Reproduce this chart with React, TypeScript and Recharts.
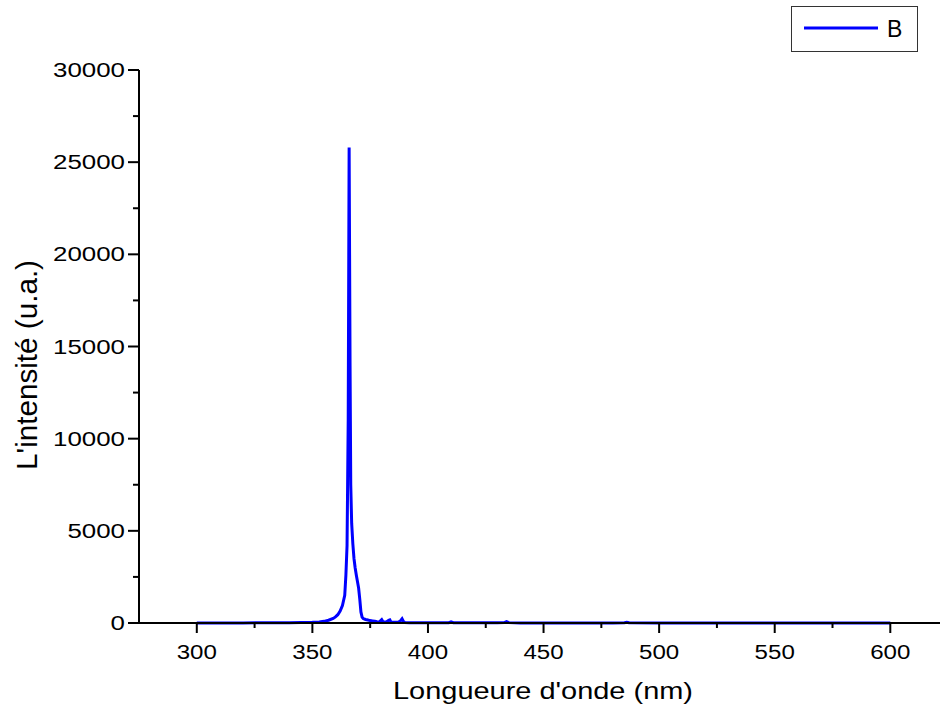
import React from "react";
import { LineChart, Line, XAxis, YAxis, Legend } from "recharts";

// spectrum (nm / counts)
const wavelengths = [
  300, 320, 330, 340, 345, 350, 353, 355, 357, 359, 360, 361, 362, 363, 364, 364.5, 365,
  365.5, 365.9, 366.3, 366.6, 367, 367.5, 368, 368.5, 369, 369.5, 370, 370.5, 371, 371.5,
  372, 373, 374, 375, 376, 377, 378, 379, 380, 380.5, 381, 382, 383, 383.5, 384, 385, 387,
  388, 388.8, 389.5, 390, 392, 395, 400, 405, 409, 410, 411, 415, 420, 430, 433, 434, 435,
  440, 450, 460, 470, 480, 485, 486, 487, 500, 550, 600,
];
const intensities = [
  0, 5, 10, 15, 25, 40, 60, 90, 150, 250, 330, 450, 650, 950, 1500, 2600, 4200,
  11000, 25800, 14000, 7500, 5400, 4300, 3500, 3000, 2600, 2250, 1900, 1300, 600, 320,
  240, 190, 160, 130, 110, 90, 70, 60, 180, 80, 50, 60, 150, 170, 60, 40, 40,
  100, 230, 60, 30, 20, 15, 10, 10, 20, 60, 20, 10, 8, 8, 20, 70, 20,
  5, 5, 5, 5, 5, 10, 40, 10, 5, 3, 2,
];

const xTicks = [300, 325, 350, 375, 400, 425, 450, 475, 500, 525, 550, 575, 600];
const yTicks = [0, 2500, 5000, 7500, 10000, 12500, 15000, 17500, 20000, 22500, 25000, 27500, 30000];

const seriesName = "B";
const xTitle = "Longueure d'onde (nm)";
const yTitle = "L'intensité (u.a.)";

const FONT = "'Liberation Sans', Arial, sans-serif";
const BLUE = "#0000ff";

const data = wavelengths.map((nm, i) => ({ nm, B: intensities[i] }));

const XTick = (props: any) => {
  const { x, y, payload } = props;
  const major = payload.value % 50 === 0;
  const label = String(payload.value);
  return (
    <g>
      <line x1={x} x2={x} y1={y} y2={y + (major ? 10 : 5)} stroke="#000" strokeWidth={2} />
      {major && (
        <text
          x={x}
          y={y + 36}
          textAnchor="middle"
          fontFamily={FONT}
          fontSize={20}
          fill="#000"
          textLength={label.length * 13.4}
          lengthAdjust="spacingAndGlyphs"
        >
          {label}
        </text>
      )}
    </g>
  );
};

const YTick = (props: any) => {
  const { x, y, payload } = props;
  const major = payload.value % 5000 === 0;
  const label = String(payload.value);
  return (
    <g>
      <line x1={x - (major ? 11 : 6)} x2={x} y1={y} y2={y} stroke="#000" strokeWidth={2} />
      {major && (
        <text
          x={x - 14}
          y={y + 7}
          textAnchor="end"
          fontFamily={FONT}
          fontSize={20}
          fill="#000"
          textLength={label.length * 14.4}
          lengthAdjust="spacingAndGlyphs"
        >
          {label}
        </text>
      )}
    </g>
  );
};

const renderLegend = () => (
  <div
    style={{
      width: 125,
      height: 44,
      border: "1.5px solid #333",
      background: "#fff",
    }}
  >
    <svg width={125} height={44}>
      <line x1={12} x2={86} y1={21} y2={21} stroke={BLUE} strokeWidth={3} />
      <text x={95} y={30} fontFamily={FONT} fontSize={23} fill="#000">
        {seriesName}
      </text>
    </svg>
  </div>
);

export default function App() {
  return (
    <div style={{ position: "absolute", left: 0, top: 0, background: "#fff" }}>
      <LineChart
        width={942}
        height={710}
        data={data}
        margin={{ top: 70, right: 2, bottom: 0, left: 0 }}
      >
        <XAxis
          type="number"
          dataKey="nm"
          domain={[275, 621.5]}
          ticks={xTicks}
          allowDataOverflow
          height={87}
          tickSize={0}
          tickMargin={0}
          tickLine={false}
          axisLine={{ stroke: "#000", strokeWidth: 2 }}
          tick={<XTick />}
          interval={0}
          label={{
            value: xTitle,
            content: () => (
              <text
                x={543}
                y={699}
                textAnchor="middle"
                fontFamily={FONT}
                fontSize={24}
                fill="#000"
                textLength={300}
                lengthAdjust="spacingAndGlyphs"
              >
                {xTitle}
              </text>
            ),
          }}
        />
        <YAxis
          type="number"
          domain={[0, 30000]}
          ticks={yTicks}
          width={139}
          tickSize={0}
          tickMargin={0}
          tickLine={false}
          axisLine={{ stroke: "#000", strokeWidth: 2 }}
          tick={<YTick />}
          interval={0}
          label={{
            value: yTitle,
            content: () => (
              <text
                x={37}
                y={365}
                transform="rotate(-90, 37, 365)"
                textAnchor="middle"
                fontFamily={FONT}
                fontSize={30}
                fill="#000"
                textLength={210}
                lengthAdjust="spacingAndGlyphs"
              >
                {yTitle}
              </text>
            ),
          }}
        />
        <Legend
          layout="vertical"
          align="center"
          verticalAlign="middle"
          content={renderLegend}
          wrapperStyle={{ position: "absolute", left: 791, top: 6, width: 127, height: 46 }}
        />
        <Line
          type="linear"
          dataKey="B"
          name={seriesName}
          stroke={BLUE}
          strokeWidth={3}
          dot={false}
          isAnimationActive={false}
        />
      </LineChart>
    </div>
  );
}
